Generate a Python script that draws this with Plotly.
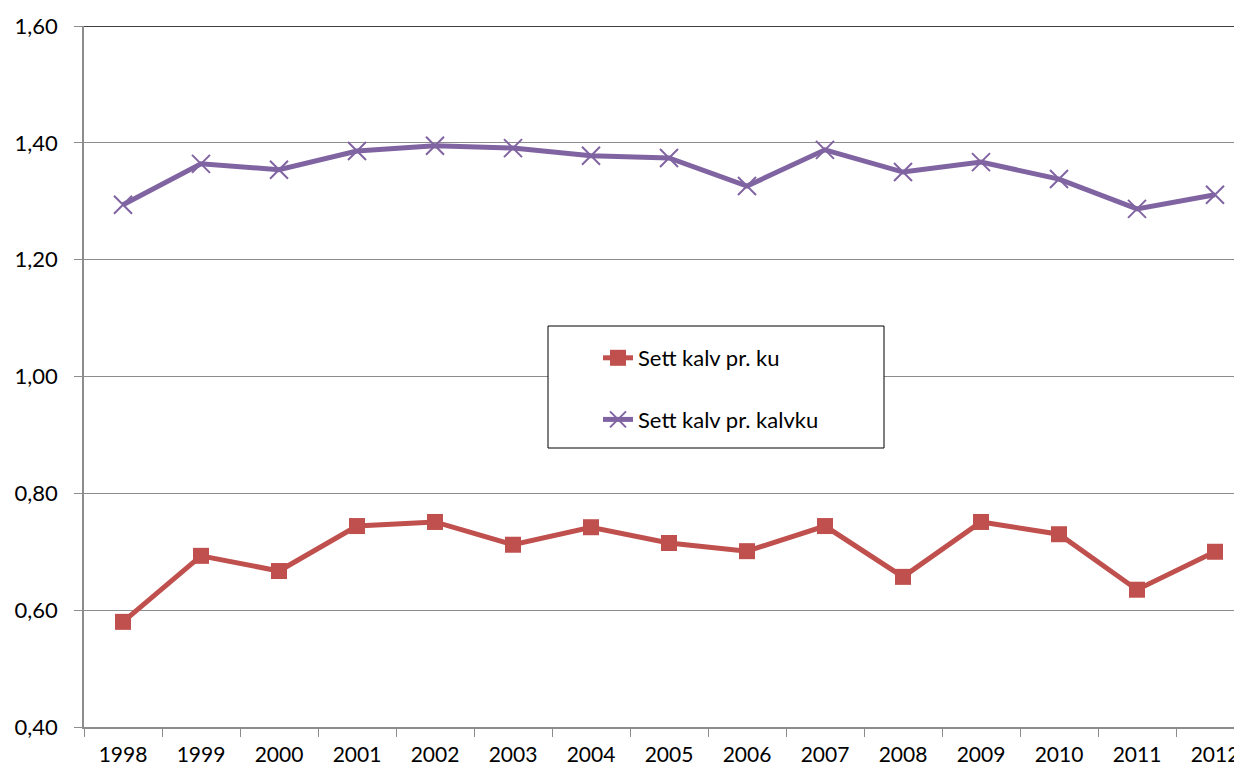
"""Sett kalv pr. ku / pr. kalvku, 1998-2012."""

import plotly.graph_objects as go

years = [str(y) for y in range(1998, 2013)]
kalv_pr_ku = [0.58, 0.693, 0.667, 0.744, 0.751, 0.712, 0.742, 0.715, 0.701,
              0.744, 0.657, 0.751, 0.730, 0.635, 0.700]
kalv_pr_kalvku = [1.294, 1.364, 1.354, 1.386, 1.395, 1.391, 1.378, 1.374, 1.326,
                  1.388, 1.350, 1.367, 1.338, 1.287, 1.311]

font = "Lato, 'Open Sans', sans-serif"
grid = "#8c8c8c"

# the page body adds an 8px offset, so the figure is sized to the rest
plot_w = 1156
plot_h = 701

fig = go.Figure()
fig.add_trace(
    go.Scatter(
        x=years,
        y=kalv_pr_ku,
        mode="lines+markers",
        name="Sett kalv pr. ku",
        legendgroup="a",
        line={"color": "#C0504D", "width": 5},
        marker={"symbol": "square", "size": 16, "color": "#C0504D"},
    )
)
fig.add_trace(
    go.Scatter(
        x=years,
        y=kalv_pr_kalvku,
        mode="lines+markers",
        name="Sett kalv pr. kalvku",
        legendgroup="b",
        line={"color": "#8064A2", "width": 5},
        marker={"symbol": "x-thin", "size": 18, "line": {"color": "#8064A2", "width": 2}},
    )
)

# legend frame
fig.add_shape(
    type="rect", xref="paper", yref="paper",
    x0=(548 - 84) / plot_w, x1=(884 - 84) / plot_w,
    y0=(727 - 448) / plot_h, y1=(727 - 326) / plot_h,
    line={"color": "black", "width": 1}, fillcolor="white", layer="above",
)
# dark top border
fig.add_shape(
    type="line", xref="paper", yref="y", x0=0, x1=1, y0=1.6, y1=1.6,
    line={"color": "black", "width": 1.5},
)

fig.update_layout(
    width=1234,
    height=764,
    margin={"l": 76, "r": 2, "t": 18, "b": 45},
    paper_bgcolor="white",
    plot_bgcolor="white",
    separators=",.",
    font={"family": font, "size": 22, "color": "black"},
    showlegend=True,
    legend={
        "x": (598 - 84) / plot_w,
        "y": (727 - 337) / plot_h,
        "xanchor": "left",
        "yanchor": "top",
        "bgcolor": "rgba(0,0,0,0)",
        "borderwidth": 0,
        "tracegroupgap": 30,
        "font": {"family": font, "size": 22},
    },
    xaxis={
        "type": "category",
        "range": [-0.5, -0.5 + plot_w / 78],
        "automargin": False,
        "showgrid": False,
        "showline": True,
        "linecolor": grid,
        "linewidth": 1.5,
        "ticks": "outside",
        "tickson": "boundaries",
        "ticklen": 8,
        "tickcolor": grid,
        "ticklabelstandoff": 8,
        "tickfont": {"size": 21},
    },
    yaxis={
        "range": [0.4, 1.6],
        "dtick": 0.2,
        "tickformat": ".2f",
        "automargin": False,
        "showgrid": True,
        "gridcolor": grid,
        "gridwidth": 1,
        "zeroline": False,
        "showline": True,
        "linecolor": grid,
        "linewidth": 1.5,
        "ticks": "outside",
        "ticklen": 8,
        "tickcolor": grid,
        "ticklabelstandoff": 12,
        "tickfont": {"size": 22},
    },
)

fig.write_html("out.html")
